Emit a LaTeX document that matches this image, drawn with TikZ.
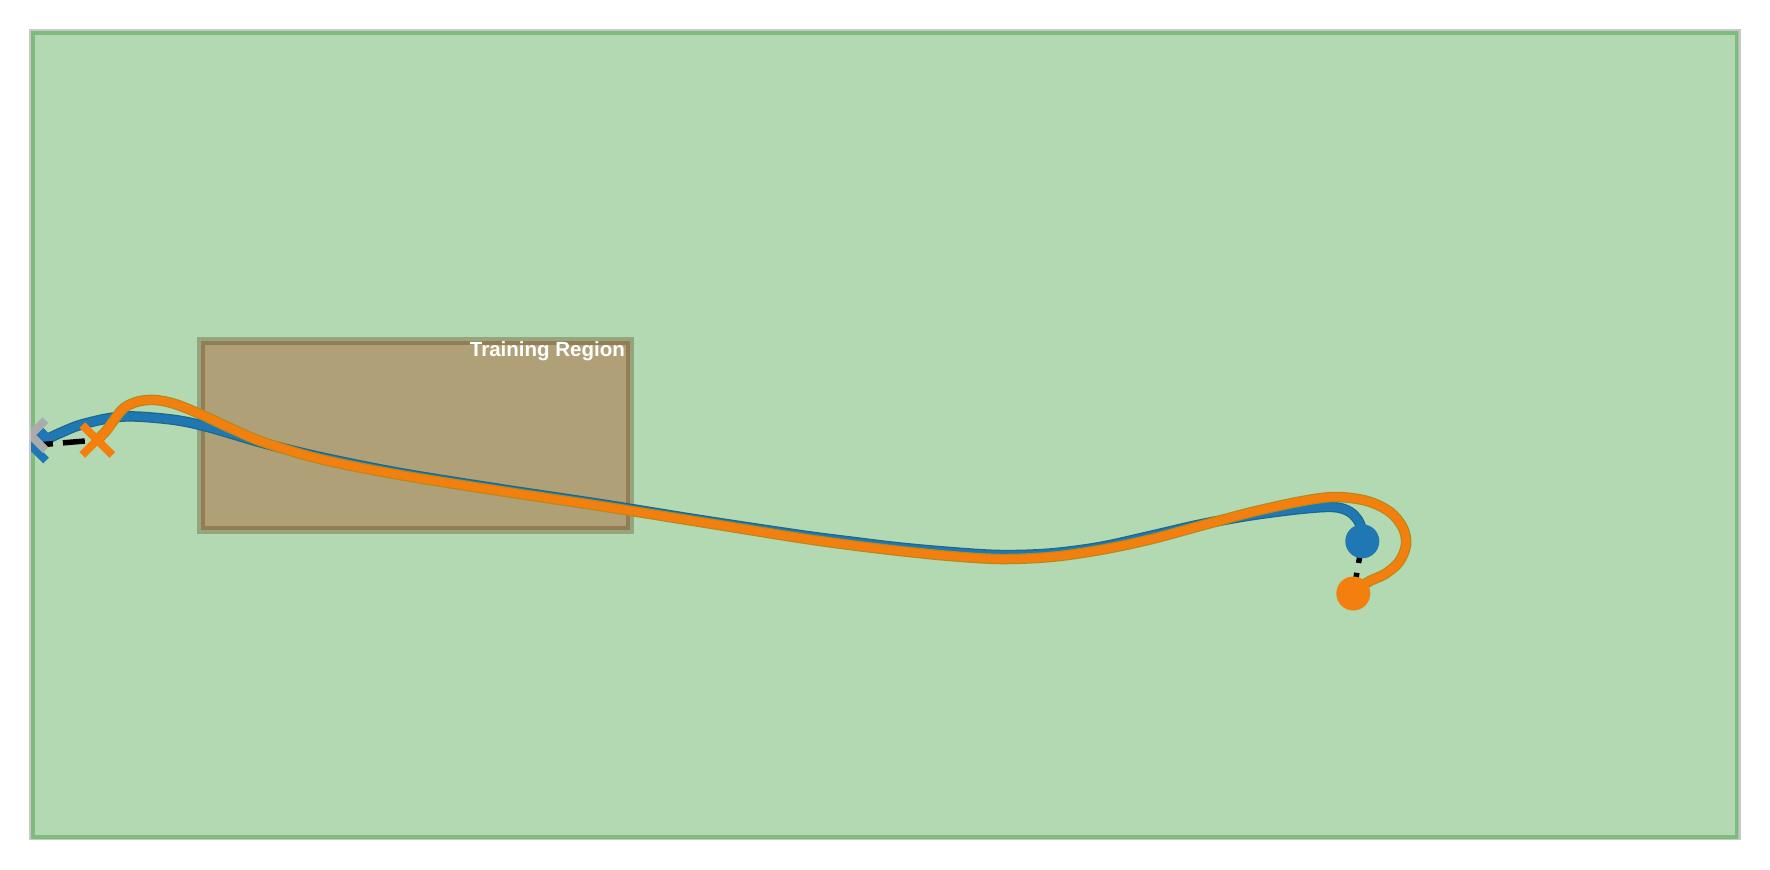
\documentclass[tikz,border=0pt]{standalone}
\usepackage{fontspec}
\setmainfont{Liberation Sans}
\usetikzlibrary{shapes.misc}
\definecolor{framegray}{RGB}{200,200,200}
\definecolor{envfill}{RGB}{178,217,178}
\definecolor{envedge}{RGB}{126,188,126}
\definecolor{trfill}{RGB}{176,160,119}
\definecolor{tredge}{RGB}{85,47,5}
\definecolor{tblue}{RGB}{31,119,180}
\definecolor{tblueedge}{RGB}{29,104,138}
\definecolor{torange}{RGB}{243,128,14}
\definecolor{torangeedge}{RGB}{184,136,28}
\definecolor{goalgray}{RGB}{171,171,171}
\tikzset{
  trajouter/.style={line width=10.5, line join=round, line cap=round},
  trajinner/.style={line width=8, line join=round, line cap=round},
  xmarker/.style={cross out, draw=#1, line width=8, minimum size=30, inner sep=0pt, outer sep=0pt},
  dotmarker/.style={circle, fill=#1, minimum size=34, inner sep=0pt, outer sep=0pt},
  linkline/.style={draw=black, line width=5.5, dash pattern=on 22pt off 10pt},
}
\begin{document}
\begin{tikzpicture}[x=1pt,y=-1pt]
\useasboundingbox (0,0) rectangle (1770,870);
\fill[white] (0,0) rectangle (1770,870);
\draw[framegray, line width=2.4] (30,30) rectangle (1739.5,839.2);
\begin{scope}
\clip (31,31) rectangle (1738.4,838);
\fill[envfill] (31,31) rectangle (1738.4,838);
\draw[envedge, line width=7] (31,31) rectangle (1738.4,838);
% training region
\fill[trfill] (200.8,340.8) rectangle (629.6,529.6);
\draw[tredge, opacity=0.3, line width=8] (200.8,340.8) rectangle (629.6,529.6);
\node[anchor=base east, inner sep=0pt, text=white, font=\bfseries\fontsize{20.5}{24}\selectfont] (trlabel) at (625,356.7) {Training Region};
% points
\coordinate (bs) at (31,445.5);
\coordinate (os) at (97.3,440);
\coordinate (be) at (1362.3,541.3);
\coordinate (oe) at (1353.3,593.5);
\coordinate (goal) at (30.5,435);
% blue trajectory
\def\bluepath{plot[smooth, tension=0.55] coordinates {(31,445.5) (45,440) (60,433) (80,425) (110,418) (135,416.5) (175,420) (208,427) (263,443) (320,457) (400,473) (500,489) (600,504) (700,520) (800,535) (850,541.5) (900,547.5) (950,552) (1000,555) (1050,553.5) (1100,547) (1150,536) (1200,524.5) (1250,515.5) (1300,509) (1333,507) (1350,512) (1360,524) (1362.3,541.3)}}
\draw[tblueedge, trajouter] \bluepath;
\draw[tblue, trajinner] \bluepath;
% orange trajectory
\def\orangepath{plot[smooth, tension=0.55] coordinates {(97.3,440) (106,431) (114,420) (124,408) (138,401.5) (155,400) (175,404) (200,414) (230,428) (263,442) (320,459) (400,475) (500,491) (600,506) (700,522) (800,538) (850,545) (900,551) (950,556) (1000,559) (1050,557) (1100,550) (1150,539.5) (1200,526) (1250,512.5) (1300,501.5) (1335,497) (1367,501) (1390,512) (1403,528) (1406,545) (1399,562) (1385,574) (1368,582) (1353.3,593.5)}}
\draw[torangeedge, trajouter] \orangepath;
\draw[torange, trajinner] \orangepath;
% links
\draw[linkline] (bs) -- (os);
\draw[linkline] (be) -- (oe);
% markers
\node[xmarker=tblue] (bsx) at (bs) {};
\node[dotmarker=tblue] (bedot) at (be) {};
\node[xmarker=torange] (osx) at (os) {};
\node[dotmarker=torange] (oedot) at (oe) {};
\node[xmarker=goalgray] (goalx) at (goal) {};
\end{scope}
\end{tikzpicture}
\end{document}
